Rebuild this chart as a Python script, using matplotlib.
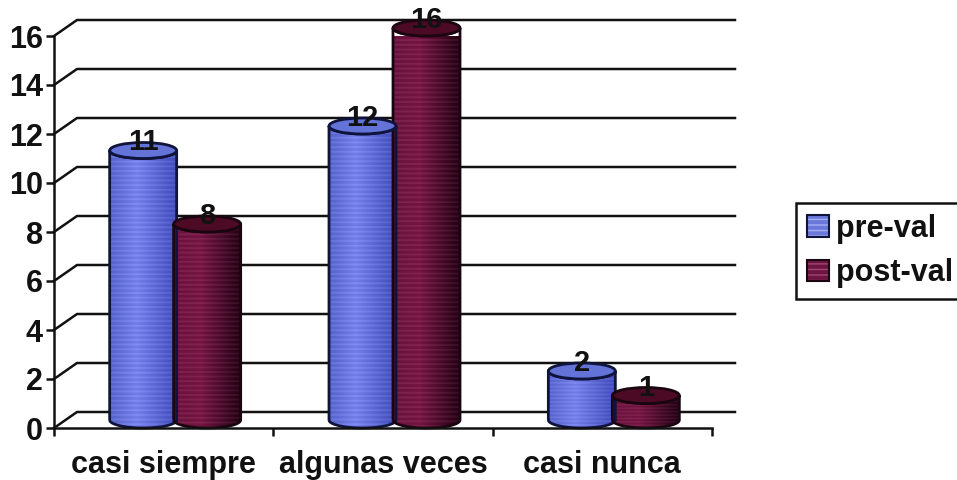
import numpy as np
import matplotlib
matplotlib.use("Agg")
import matplotlib.pyplot as plt
from matplotlib.patches import Ellipse, Patch, PathPatch
from matplotlib.path import Path
from matplotlib.legend_handler import HandlerTuple

categories = ["casi siempre", "algunas veces", "casi nunca"]
pre_val = [11, 12, 2]
post_val = [8, 16, 1]
y_ticks = [0, 2, 4, 6, 8, 10, 12, 14, 16]

FIG_W, FIG_H = 957, 480
LEFT, RIGHT = 54, 712
TOP, BOTTOM = 36, 428
PX_X = (RIGHT - LEFT) / len(categories)
PX_Y = (BOTTOM - TOP) / max(y_ticks)

# fake 3d depth of the chart box, in data units
DEPTH_X = 23 / PX_X
DEPTH_Y = 16 / PX_Y
BAR_W = 67 / PX_X
BAR_OFF = 32 / PX_X

plt.rcParams["font.family"] = ["Liberation Sans", "DejaVu Sans"]
plt.rcParams["font.weight"] = "bold"
plt.rcParams["hatch.linewidth"] = 1.0

fig = plt.figure(figsize=(FIG_W / 100, FIG_H / 100), dpi=100)
ax = fig.add_axes([LEFT / FIG_W, 1 - BOTTOM / FIG_H, (RIGHT - LEFT) / FIG_W, (BOTTOM - TOP) / FIG_H])
ax.patch.set_visible(False)


def shade(height, left, mid, right):
    # horizontal cylinder shading with the light banding across it
    rows = max(int(height * PX_Y) + 20, 8)
    t = np.linspace(0, 1, 67)[None, :, None]
    left, mid, right = [np.array(c)[None, None, :] / 255 for c in (left, mid, right)]
    img = np.where(t < 0.4, left + (mid - left) * t / 0.4, mid + (right - mid) * (t - 0.4) / 0.6)
    img = np.repeat(img, rows, axis=0)
    band = (np.arange(rows) % 5 < 2)[:, None, None]
    return np.clip(img + band * 0.06, 0, 1)


def cylinder(cx, value, colors, top_color, edge):
    x0, x1 = cx - BAR_W / 2, cx + BAR_W / 2
    base = DEPTH_Y / 2
    ry = 8 / PX_Y
    a = np.linspace(np.pi, 2 * np.pi, 40)
    xs = cx + BAR_W / 2 * np.cos(a)
    bottom = base + ry * np.sin(a)
    top = base + value + ry * np.sin(a)
    verts = np.vstack([np.c_[xs, bottom], np.c_[xs[::-1], top[::-1]], [[xs[0], bottom[0]]]])
    body = PathPatch(Path(verts), facecolor="none", edgecolor=edge, lw=2, zorder=3, clip_on=False)
    ax.add_patch(body)
    im = ax.imshow(shade(value + 2 * ry, *colors), extent=[x0, x1, base - ry, base + value + ry],
                   aspect="auto", zorder=2.9, interpolation="bilinear")
    im.set_clip_path(body)
    ax.add_patch(Ellipse((cx, base + value), BAR_W, 2 * ry, facecolor=top_color, edgecolor=edge,
                         lw=2, zorder=3.1, clip_on=False))
    ax.text(cx, base + value + 8 / PX_Y, str(value), ha="center", va="center", fontsize=21,
            color="#111111", zorder=5)


# side walls and back wall gridlines
for v in y_ticks:
    ax.plot([0, DEPTH_X, len(categories) + DEPTH_X], [v, v + DEPTH_Y, v + DEPTH_Y], color="#111111",
            lw=1.8, clip_on=False, zorder=1, solid_joinstyle="round")

blue = ((85, 98, 200), (115, 125, 230), (65, 75, 185))
maroon = ((105, 18, 60), (115, 20, 65), (35, 0, 18))
for i in range(len(categories)):
    center = i + 0.5 + DEPTH_X / 2
    cylinder(center - BAR_OFF, pre_val[i], blue, "#6373d8", "#10143c")
for i in range(len(categories)):
    center = i + 0.5 + DEPTH_X / 2
    cylinder(center + BAR_OFF, post_val[i], maroon, "#4c0a24", "#1a0510")

ax.set_xlim(0, len(categories))
ax.set_ylim(0, max(y_ticks))
ax.set_yticks(y_ticks)
ax.set_xticks(range(len(categories) + 1))
ax.set_xticklabels([])
ax.set_xticks(np.arange(len(categories)) + 0.5, minor=True)
ax.set_xticklabels(categories, minor=True, fontsize=22, fontweight="bold", color="#111111")
ax.tick_params(axis="x", which="minor", length=0, pad=16)
ax.tick_params(axis="both", which="major", length=6, width=1.8, color="#111111")
ax.tick_params(axis="y", labelsize=22, labelcolor="#111111", pad=2)
for name in ("top", "right"):
    ax.spines[name].set_visible(False)
for name in ("left", "bottom"):
    ax.spines[name].set_linewidth(1.8)
    ax.spines[name].set_color("#111111")
    ax.spines[name].set_zorder(4)

handles = [
    (Patch(facecolor="#6a78dc", edgecolor="none"),
     Patch(facecolor="none", edgecolor="#a5aef0", hatch="---", lw=0),
     Patch(facecolor="none", edgecolor="#10143c", lw=1.5)),
    (Patch(facecolor="#6e1440", edgecolor="none"),
     Patch(facecolor="none", edgecolor="#9a4a70", hatch="---", lw=0),
     Patch(facecolor="none", edgecolor="#1a0510", lw=1.5)),
]
fig.legend(handles, ["pre-val", "post-val"], handler_map={tuple: HandlerTuple(ndivide=1, pad=0)},
           loc="upper left", bbox_to_anchor=(796 / FIG_W, 1 - 203 / FIG_H), borderaxespad=0,
           fontsize=22, fancybox=False, framealpha=1, edgecolor="#111111", borderpad=0.35,
           handlelength=0.72, handleheight=0.7, handletextpad=0.23, labelspacing=0.47,
           labelcolor="#111111").get_frame().set_linewidth(1.8)

fig.savefig("out.png", dpi=100)
